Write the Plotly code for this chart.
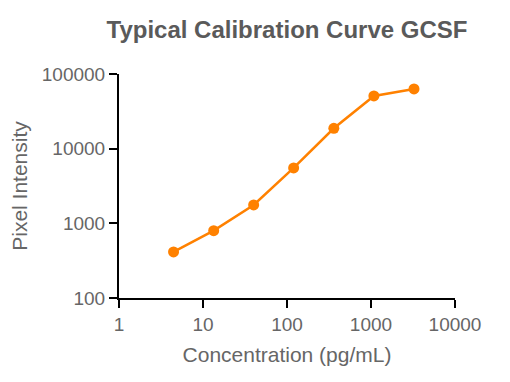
import plotly.graph_objects as go

concentration = [4.46, 13.4, 40.1, 120, 361, 1083, 3250]
intensity = [414, 798, 1763, 5520, 18760, 50770, 63000]

x_tickvals = [1, 10, 100, 1000, 10000]
x_ticktext = ["1", "10", "100", "1000", "10000"]
y_tickvals = [100, 1000, 10000, 100000]
y_ticktext = ["100", "1000", "10000", "100000"]

orange = "#FF8100"
grey = "#666666"
font_fam = "Arial, Liberation Sans, Helvetica, sans-serif"

W, H = 502, 374

fig = go.Figure()
fig.add_trace(go.Scatter(
    x=concentration, y=intensity, mode="lines+markers",
    line=dict(color=orange, width=2.5),
    marker=dict(color=orange, size=11),
    showlegend=False,
))

fig.update_layout(
    width=W, height=H,
    margin=dict(l=111, r=55, t=66, b=84, autoexpand=False),
    paper_bgcolor="white", plot_bgcolor="white",
    font=dict(family=font_fam, color=grey, size=19),
    title=dict(text="<b>Typical Calibration Curve GCSF</b>", x=0.5, xref="paper",
               y=1 - 22 / H, yref="container", yanchor="middle",
               font=dict(size=24, color="#5a5a5a")),
)
fig.update_xaxes(
    type="log", range=[0, 4], tickvals=x_tickvals, ticktext=x_ticktext,
    showgrid=False, zeroline=False, showline=True, linecolor="black", linewidth=2,
    ticks="outside", ticklen=8, tickwidth=2, tickcolor="black",
    tickfont=dict(size=19, color=grey), automargin=False,
    title=dict(text="Concentration (pg/mL)", font=dict(size=21, color=grey), standoff=14),
)
fig.update_yaxes(
    type="log", range=[2, 5], tickvals=y_tickvals, ticktext=y_ticktext,
    showgrid=False, zeroline=False, showline=True, linecolor="black", linewidth=2,
    ticks="outside", ticklen=8, tickwidth=2, tickcolor="black",
    tickfont=dict(size=19, color=grey), automargin=False,
    title=dict(text="Pixel Intensity", font=dict(size=21, color=grey), standoff=18),
)

fig.write_html("out.html")
